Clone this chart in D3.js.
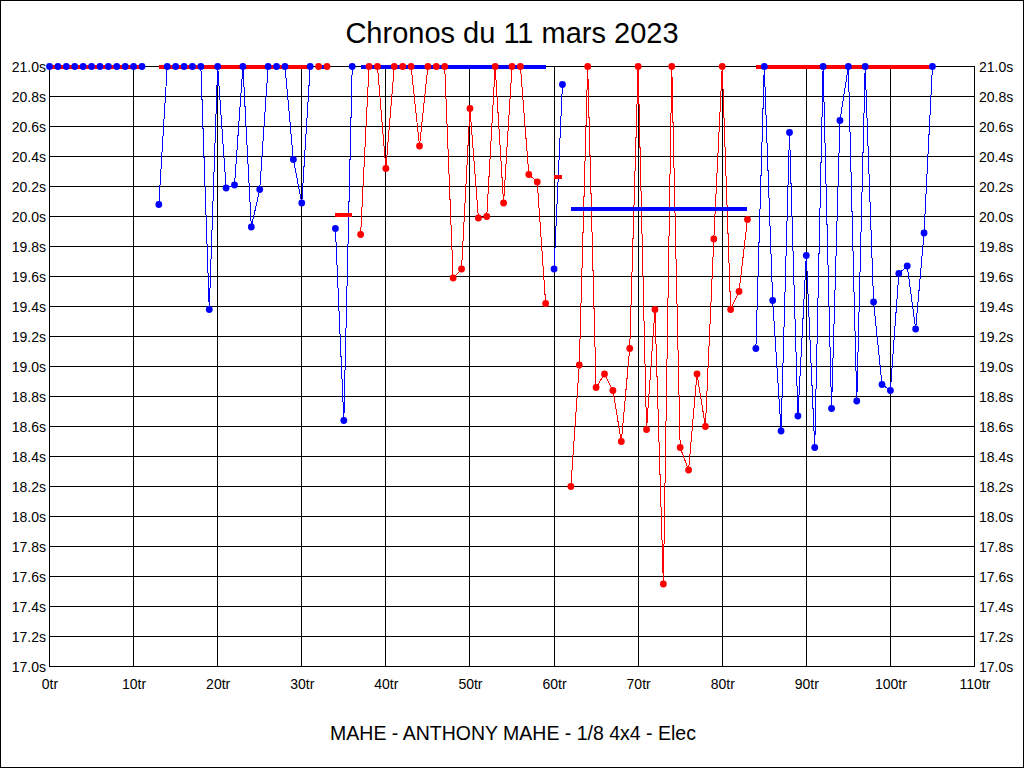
<!DOCTYPE html>
<html>
<head>
<meta charset="utf-8">
<script src="https://cdn.jsdelivr.net/npm/d3@7"></script>
<style>
  html, body { margin: 0; padding: 0; background: #fff; }
  svg { display: block; }
  text { font-family: "Liberation Sans", Arial, sans-serif; fill: #000; }
</style>
</head>
<body>
<svg id="chart" width="1024" height="768"></svg>
<script>
// ---- data ----
const title = "Chronos du 11 mars 2023";
const subtitle = "MAHE - ANTHONY MAHE - 1/8 4x4 - Elec";

const xTickValues = [0, 10, 20, 30, 40, 50, 60, 70, 80, 90, 100, 110];
const yTickValues = [17.0, 17.2, 17.4, 17.6, 17.8, 18.0, 18.2, 18.4, 18.6, 18.8, 19.0,
                     19.2, 19.4, 19.6, 19.8, 20.0, 20.2, 20.4, 20.6, 20.8, 21.0];

// first lap number of each run, its colour, and its average (thick line)
const runFirstLap = [0, 13, 32, 34, 37, 60, 62, 84];
const runColor    = ["blue", "blue", "red", "blue", "red", "blue", "red", "blue"];
const runAverage  = [21.0, 21.0, 21.0, 20.01, 21.0, 20.265, 20.05, 21.0];

// lap times of each run (seconds, clipped at 21.0 on the chart)
const run1 = [21.0, 21.0, 21.0, 21.0, 21.0, 21.0, 21.0, 21.0, 21.0, 21.0, 21.0, 21.0];
const run2 = [20.08, 21.0, 21.0, 21.0, 21.0, 21.0, 19.38, 21.0, 20.19, 20.21, 21.0, 19.93,
              20.18, 21.0, 21.0, 21.0, 20.38, 20.09, 21.0];
const run3 = [21.0, 21.0];
const run4 = [19.92, 18.64, 21.0];
const run5 = [19.88, 21.0, 21.0, 20.32, 21.0, 21.0, 21.0, 20.47, 21.0, 21.0, 21.0, 19.59,
              19.65, 20.72, 19.99, 20.00, 21.0, 20.09, 21.0, 21.0, 20.28, 20.23, 19.42];
const run6 = [19.65, 20.88];
const run7 = [18.20, 19.01, 21.0, 18.86, 18.95, 18.84, 18.50, 19.12, 21.0, 18.58, 19.38,
              17.55, 21.0, 18.46, 18.31, 18.95, 18.60, 19.85, 21.0, 19.38, 19.50, 19.98];
const run8 = [19.12, 21.0, 19.44, 18.57, 20.56, 18.67, 19.74, 18.46, 21.0, 18.72, 20.64,
              21.0, 18.77, 21.0, 19.43, 18.88, 18.84, 19.62, 19.67, 19.25, 19.89, 21.0];
const runTimes = [run1, run2, run3, run4, run5, run6, run7, run8];

// ---- drawing ----
const colorMap = { blue: "#0000ff", red: "#ff0000" };
const oppositeMap = { blue: "#ff0000", red: "#0000ff" };

const svg = d3.select("#chart");
const W = 1024, H = 768;

const x = d3.scaleLinear().domain([0, 110]).range([49.5, 974.5]);
const y = d3.scaleLinear().domain([17, 21]).range([666.5, 66.5]);

// page border
svg.append("rect").attr("x", 0.5).attr("y", 0.5).attr("width", W - 1).attr("height", H - 1)
  .attr("fill", "#fff").attr("stroke", "#000").attr("stroke-width", 1)
  .attr("shape-rendering", "crispEdges");

// title
svg.append("text").attr("x", 512).attr("y", 43).attr("text-anchor", "middle")
  .style("font-size", "29px").text(title);
svg.append("text").attr("x", 513).attr("y", 740).attr("text-anchor", "middle")
  .style("font-size", "19.5px").text(subtitle);

// grid
const grid = svg.append("g").attr("shape-rendering", "crispEdges");
grid.selectAll("line.h").data(yTickValues).join("line").attr("class", "h")
  .attr("x1", x(0)).attr("x2", x(110))
  .attr("y1", d => y(d)).attr("y2", d => y(d))
  .attr("stroke", "#000").attr("stroke-width", 1);
grid.selectAll("line.v").data(xTickValues).join("line").attr("class", "v")
  .attr("x1", d => x(d)).attr("x2", d => x(d))
  .attr("y1", y(21)).attr("y2", y(17))
  .attr("stroke", "#000").attr("stroke-width", 1);

// axes (labels only)
const fmtY = d => d.toFixed(1) + "s";
const fmtX = d => d + "tr";
function styleAxis(g) {
  g.select(".domain").remove();
  g.selectAll(".tick line").remove();
  g.selectAll("text").style("font-size", "14px")
    .style("font-family", "'Liberation Sans', Arial, sans-serif").attr("fill", "#000");
}
svg.append("g").attr("transform", `translate(${x(0) - 0.5},0.5)`)
  .call(d3.axisLeft(y).tickValues(yTickValues).tickFormat(fmtY).tickSize(0).tickPadding(3))
  .call(styleAxis);
svg.append("g").attr("transform", `translate(${x(110) - 0.5},0.5)`)
  .call(d3.axisRight(y).tickValues(yTickValues).tickFormat(fmtY).tickSize(0).tickPadding(5))
  .call(styleAxis);
svg.append("g").attr("transform", `translate(0,${y(17) - 0.5})`)
  .call(d3.axisBottom(x).tickValues(xTickValues).tickFormat(fmtX).tickSize(0).tickPadding(13))
  .call(styleAxis);

// data
const runs = runTimes.map((times, i) => ({
  color: runColor[i],
  avg: runAverage[i],
  pts: times.map((t, j) => ({ lap: runFirstLap[i] + j, t }))
}));

const line = d3.line().x(d => x(d.lap)).y(d => y(d.t));

const dataG = svg.append("g");
dataG.selectAll("path.run").data(runs).join("path").attr("class", "run")
  .attr("d", d => line(d.pts))
  .attr("fill", "none").attr("stroke", d => colorMap[d.color]).attr("stroke-width", 1)
  .attr("shape-rendering", "crispEdges");

dataG.selectAll("line.avg").data(runs).join("line").attr("class", "avg")
  .attr("x1", d => x(d.pts[0].lap)).attr("x2", d => x(d.pts[d.pts.length - 1].lap))
  .attr("y1", d => y(d.avg)).attr("y2", d => y(d.avg))
  .attr("stroke", d => oppositeMap[d.color]).attr("stroke-width", 4)
  .attr("shape-rendering", "crispEdges");

runs.forEach(r => {
  dataG.append("g").selectAll("circle").data(r.pts).join("circle")
    .attr("cx", d => x(d.lap)).attr("cy", d => y(d.t)).attr("r", 3.4)
    .attr("fill", colorMap[r.color]);
});
</script>
</body>
</html>
